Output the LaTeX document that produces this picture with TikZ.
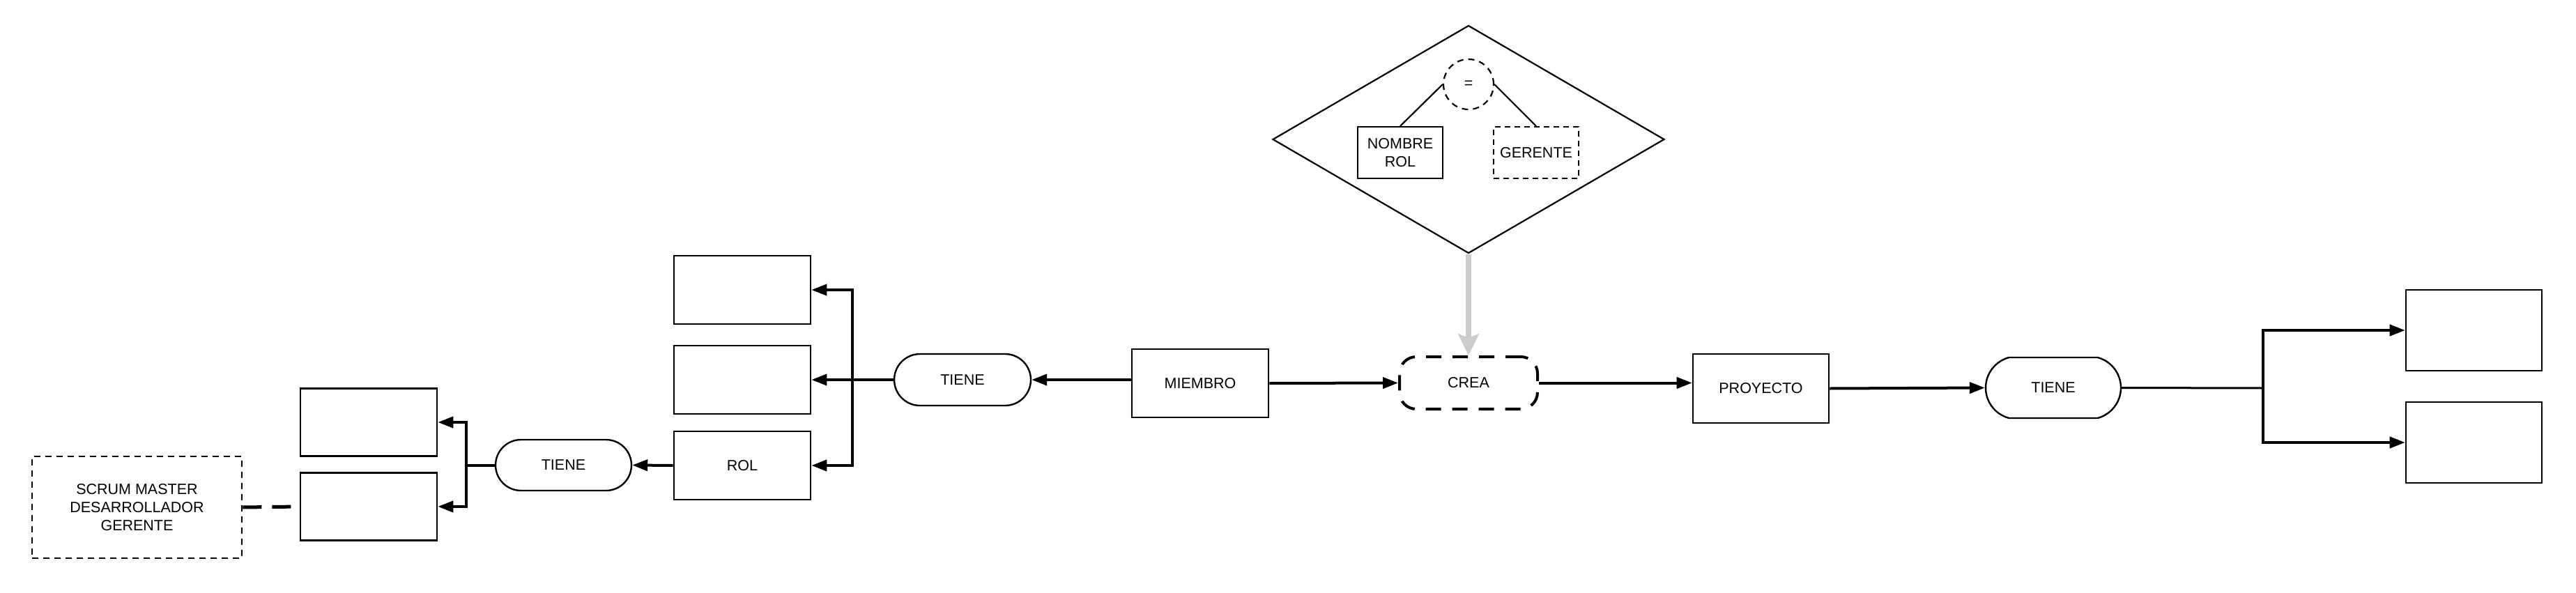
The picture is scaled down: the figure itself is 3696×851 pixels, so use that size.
\documentclass[tikz,border=0pt]{standalone}
\usepackage{fontspec}
\setmainfont{Liberation Sans}
\usetikzlibrary{positioning,arrows.meta,shapes.geometric,shapes.misc}

\begin{document}
\begin{tikzpicture}[x=1pt,y=-1pt,>={Triangle[length=22pt,width=16pt]},
font=\fontsize{21.5}{26}\selectfont,
entity/.style={draw, line width=2.6pt, minimum width=196pt, minimum height=98pt, inner sep=0pt, align=center},
relation/.style={draw, rounded rectangle, line width=2.4pt, minimum width=195pt, minimum height=73pt, inner sep=0pt},
dashbox/.style={draw, line width=2.6pt, dash pattern=on 9pt off 7pt, inner sep=0pt, align=center},
link/.style={line width=4pt},
]
\useasboundingbox (0,0) rectangle (3696,851);

\node[entity](miembro) at (1722,550){MIEMBRO};
\node[relation][minimum width=196pt, minimum height=74pt](tieneM) at (1381,545){TIENE};
\node[entity](rol) at (1065,668){ROL};
\node[entity][above of=rol, node distance=123pt](m2){};
\node[entity][above of=m2, node distance=129pt](m1){};
\node[relation](tieneL) at (808.5,667.5){TIENE};
\node[entity][minimum height=97pt](l2) at (529,727){};
\node[entity][minimum height=97pt, above of=l2, node distance=121pt](l1){};
\node[dashbox][minimum width=301pt, minimum height=146pt](scrum) at (196.5,728){SCRUM MASTER\\DESARROLLADOR\\GERENTE};
\node[draw, line width=4pt, dash pattern=on 22pt off 16pt, rounded corners=24pt, minimum width=198pt, minimum height=75pt](crea) at (2107,549.5){CREA};
\node[entity][minimum width=195pt, minimum height=99pt](proyecto) at (2526.5,557.5){PROYECTO};
\node[relation][minimum width=194pt, minimum height=87pt, rounded rectangle arc length=150](tieneR) at (2946,556.5){TIENE};
\node[entity][minimum width=195pt, minimum height=116pt](r1) at (3549.5,474){};
\node[entity][minimum width=195pt, minimum height=116pt, below of=r1, node distance=161pt](r2){};

\node[draw, diamond, line width=2.2pt, minimum width=562pt, minimum height=327pt, inner sep=0pt](cond) at (2107,200){};
\node[dashbox][circle, line width=2.2pt, minimum size=72pt](eq) at (2107,121){=};
\node[draw, line width=2.2pt, minimum width=122pt, minimum height=74pt, inner sep=0pt, align=center](nombre) at (2009,219){NOMBRE\\ROL};
\node[dashbox][line width=2.2pt, dash pattern=on 8pt off 6pt, minimum width=122pt, minimum height=74pt](gerente) at (2204,219){GERENTE};

\path[line width=2.2pt] (eq.west) edge (nombre.north)
      (eq.east) edge (gerente.north);
\draw[line width=8pt, draw=black!20, -{Stealth[length=31pt,width=30pt,inset=6pt]}] (cond.south) -- (crea.north);

\coordinate (bm) at (1223,545);
\coordinate (bl) at (669,667.5);
\coordinate (br) at (3247,557);

\draw[link,->] (miembro.west |- tieneM.east) -- (tieneM.east);
\draw[link,->] (tieneM.west) -- (m2.east);
\draw[link,->] (bm) |- (m1.east);
\draw[link,->] (bm) |- (rol.east);
\draw[link,->] (rol.west) -- (tieneL.east);
\draw[link] (tieneL.west) -- (bl);
\draw[link,->] (bl) |- (l1.east);
\draw[link,->] (bl) |- (l2.east);
\draw[line width=5pt, dash pattern=on 27pt off 15pt] (scrum.east) -- (l2.west);
\draw[link,->] (miembro.east) -- (crea.west);
\draw[link,->] (crea.east) -- (crea.east -| proyecto.west);
\draw[link,->] (proyecto.east) -- (tieneR.west);
\draw[line width=3pt] (tieneR.east) -- (br);
\draw[link,->] (br) |- (r1.west);
\draw[link,->] (br) |- (r2.west);
\end{tikzpicture}
\end{document}
